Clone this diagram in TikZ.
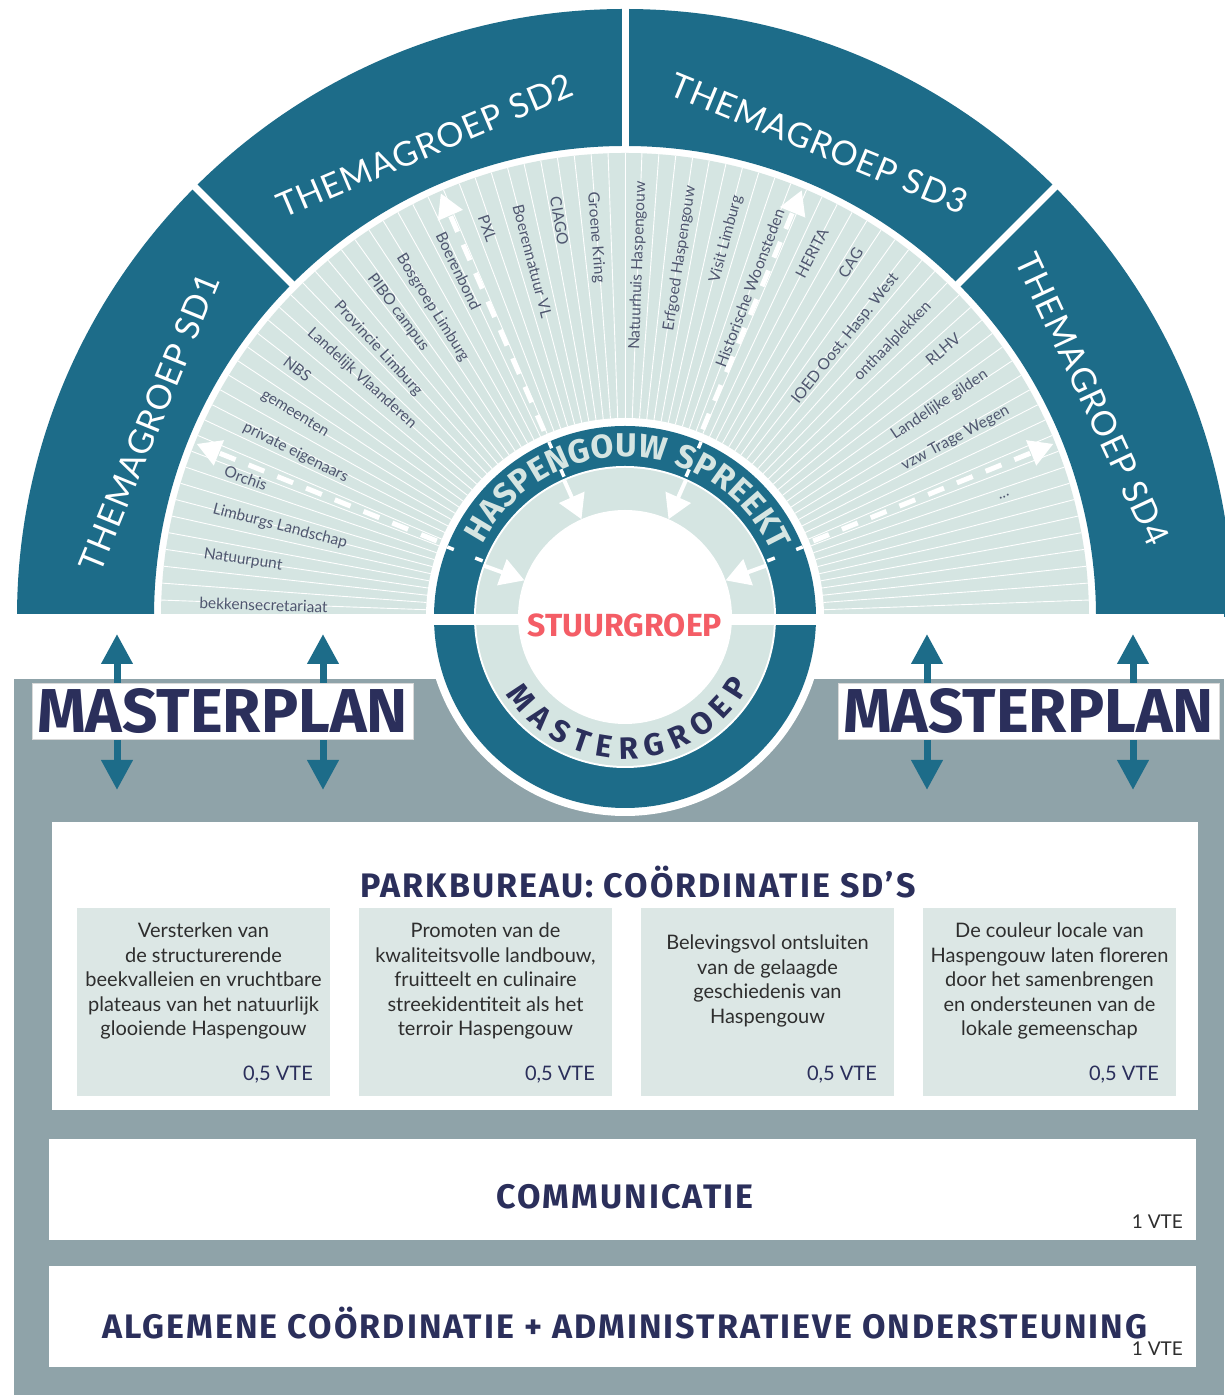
\documentclass[tikz,border=0pt]{standalone}
\usepackage{fontspec}
\setmainfont{Lato}
\newfontfamily\hfont{Fira Sans}
\usetikzlibrary{arrows.meta,decorations.text}
\definecolor{bandc}{HTML}{1D6C89}
\definecolor{fanc}{HTML}{D5E5E2}
\definecolor{grayc}{HTML}{8FA3A9}
\definecolor{navyc}{HTML}{2B2F5B}
\definecolor{redc}{HTML}{F45D66}
\definecolor{boxc}{HTML}{DCE7E5}
\definecolor{lblc}{HTML}{4F566F}
\definecolor{txtc}{HTML}{2E2E2E}
\begin{document}
\begin{tikzpicture}[x=1pt,y=1pt,
  fanlbl/.style={inner sep=0pt, text=lblc, font=\fontsize{15.5}{15.5}\selectfont},
  themelbl/.style={inner sep=0pt, text=white, font=\addfontfeature{LetterSpace=3}\fontsize{34}{34}\selectfont},
  masterarrow/.style={draw=bandc, line width=7pt, {Triangle[length=30pt,width=30pt]}-{Triangle[length=30pt,width=30pt]}},
  mpbox/.style={fill=white, draw=black!15, line width=0.6pt, inner sep=0pt, minimum width=381pt, minimum height=56pt, text=navyc, font=\hfont\bfseries\fontsize{62}{62}\selectfont},
  whitebox/.style={fill=white, inner sep=0pt, anchor=south west},
  lightbox/.style={fill=boxc, inner sep=0pt, anchor=south west, minimum width=253pt, minimum height=188pt},
  boxtxt/.style={inner sep=0pt, align=center, text=txtc, font=\fontsize{20}{24.5}\selectfont},
  vte/.style={inner sep=0pt, anchor=east, text=navyc, font=\fontsize{20}{20}\selectfont},
  vtesmall/.style={inner sep=0pt, anchor=east, text=txtc, font=\fontsize{19}{19}\selectfont},
  headtxt/.style={inner sep=0pt, text=navyc, font=\hfont\bfseries\addfontfeature{LetterSpace=6}\fontsize{34}{34}\selectfont}
]
\useasboundingbox (0,0) rectangle (1224,1395);
\fill[white] (0,0) rectangle (1224,1395);
\fill[grayc] (14,0) rectangle (1224,716);

\begin{scope}[shift={(625,778)}]
  % outer band
  \fill[bandc] (0:608pt) arc[start angle=0,end angle=180,radius=608pt] -- (180:471pt) arc[start angle=180,end angle=0,radius=471pt] -- cycle;
  \foreach \a in {45,90,135} \draw[white, line width=7pt] (\a:462pt) -- (\a:615pt);
  % fan
  \fill[fanc] (0:464pt) arc[start angle=0,end angle=180,radius=464pt] -- (180:198pt) arc[start angle=180,end angle=0,radius=198pt] -- cycle;
  \foreach \k in {1,...,85} \draw[white, line width=0.9pt] ({\k*180/86}:199pt) -- ({\k*180/86}:464pt);
  % fan labels
  \foreach \a/\t [count=\i] in {178.1/bekkensecretariaat, 171.5/Natuurpunt, 165.3/Limburgs Landschap, 159.9/Orchis, 153.5/private eigenaars, 148.4/gemeenten, 142.9/NBS, 137.8/Landelijk Vlaanderen, 132.6/Provincie Limburg, 126.7/PIBO campus, 121.9/Bosgroep Limburg, 115.7/Boerenbond, 109.5/PXL, 104.6/Boerennatuur VL, 99.4/CIAGO, 94.4/Groene Kring}
    \node[fanlbl, anchor=west, rotate=\a-180] (fl\i) at (\a:426pt) {\t};
  \foreach \a/\t [count=\i] in {87.9/Natuurhuis Haspengouw, 81.3/Erfgoed Haspengouw, 75/Visit Limburg, 69.2/Historische Woonsteden, 62.8/HERITA, 57.5/CAG, 51.6/{IOED Oost, Hasp. West}, 45.8/onthaalplekken, 40.1/RLHV, 34/Landelijke gilden, 28.4/vzw Trage Wegen}
    \node[fanlbl, anchor=east, rotate=\a] (fr\i) at (\a:436pt) {\t};
  \node[fanlbl, rotate=17.6] (fdots) at (17.6:398pt) {...};
  % outer dashed arrows
  \foreach \a in {158,113.5,67.5,22}
    \draw[white, line width=5pt, dash pattern=on 17pt off 14pt, -{Triangle[length=24pt,width=26pt]}] (\a:203pt) -- (\a:462pt);
  % ring
  \fill[white] (0,0) circle[radius=199pt];
  \fill[bandc] (0,0) circle[radius=191pt];
  \fill[white] (0,0) circle[radius=151pt];
  \fill[fanc] (0,0) circle[radius=149pt];
  \fill[white] (0,0) circle[radius=107pt];
  \foreach \a in {158.5,113.5,66.5,21.5} {
    \draw[white, line width=3.5pt] (\a:153pt) -- (\a:161pt);
    \draw[white, line width=3.5pt] (\a:184pt) -- (\a:191pt);
  }
  \foreach \a in {160,114,66,20}
    \draw[white, line width=4pt, -{Triangle[length=24pt,width=27pt]}] (\a:150pt) -- (\a:107pt);
\end{scope}
% white stripe
\fill[white] (0,770) rectangle (1224,781);

\begin{scope}[shift={(625,778)}]
  \node[themelbl, rotate=67.8] (sd1) at (157.8:514pt) {THEMAGROEP SD1};
  \node[themelbl, rotate=23] (sd2) at (113:512pt) {THEMAGROEP SD2};
  \node[themelbl, rotate=-22.3] (sd3) at (67.7:512pt) {THEMAGROEP SD3};
  \node[themelbl, rotate=-65] (sd4) at (25:516pt) {THEMAGROEP SD4};
  \path[decorate, decoration={text along path, text color=fanc, text align={fit to path},
     text={|\hfont\bfseries\fontsize{33}{33}\selectfont|HASPENGOUW SPREEKT}}]
     (153:160pt) arc[start angle=153, end angle=24, radius=160pt];
  \path[decorate, decoration={text along path, text color=navyc, text align={fit to path},
     text={|\hfont\bfseries\fontsize{31}{31}\selectfont|MASTERGROEP}}]
     (213:142pt) arc[start angle=213, end angle=331, radius=142pt];
\end{scope}
\node[inner sep=0pt, text=redc, font=\hfont\bfseries\fontsize{32}{32}\selectfont] (stuur) at (625,770) {STUURGROEP};

% masterplan arrows
\foreach \x [count=\i] in {117,323,927,1133} {
  \coordinate (mt\i) at (\x,761);
  \coordinate (mb\i) at (\x,605);
  \draw[masterarrow] (mt\i) -- (mb\i);
}
\node[mpbox] (mpL) at (222.5,684) {MASTERPLAN};
\node[mpbox] (mpR) at (1028.5,684) {MASTERPLAN};

% parkbureau
\node[whitebox, minimum width=1146pt, minimum height=288pt] (pb) at (52,285) {};
\node[headtxt] (pbt) at (638,513) {PARKBUREAU: COÖRDINATIE SD’S};
\node[lightbox] (b1) at (77,299) {};
\node[lightbox] (b2) at (359,299) {};
\node[lightbox] (b3) at (641,299) {};
\node[lightbox] (b4) at (923,299) {};
\node[boxtxt] (t1) at (203.5,414) {Versterken van\\de structurerende\\beekvalleien en vruchtbare\\plateaus van het natuurlijk\\glooiende Haspengouw};
\node[boxtxt] (t2) at (485.5,414) {Promoten van de\\kwaliteitsvolle landbouw,\\fruitteelt en culinaire\\streekidentiteit als het\\terroir Haspengouw};
\node[boxtxt] (t3) at (767.5,414) {Belevingsvol ontsluiten\\van de gelaagde\\geschiedenis van\\Haspengouw};
\node[boxtxt] (t4) at (1049.5,414) {De couleur locale van\\Haspengouw laten floreren\\door het samenbrengen\\en ondersteunen van de\\lokale gemeenschap};
\node[vte] (v1) at (313,320) {0,5 VTE};
\node[vte] (v2) at (595,320) {0,5 VTE};
\node[vte] (v3) at (877,320) {0,5 VTE};
\node[vte] (v4) at (1159,320) {0,5 VTE};

% communicatie
\node[whitebox, minimum width=1147pt, minimum height=101pt] (cm) at (49,155) {};
\node[headtxt] (cmt) at (625,198) {COMMUNICATIE};
\node[vtesmall] (cmv) at (1183,173) {1 VTE};
% algemene
\node[whitebox, minimum width=1147pt, minimum height=101pt] (al) at (49,28) {};
\node[headtxt] (alt) at (625,72) {ALGEMENE COÖRDINATIE + ADMINISTRATIEVE ONDERSTEUNING};
\node[vtesmall] (alv) at (1183,46) {1 VTE};
\end{tikzpicture}
\end{document}
